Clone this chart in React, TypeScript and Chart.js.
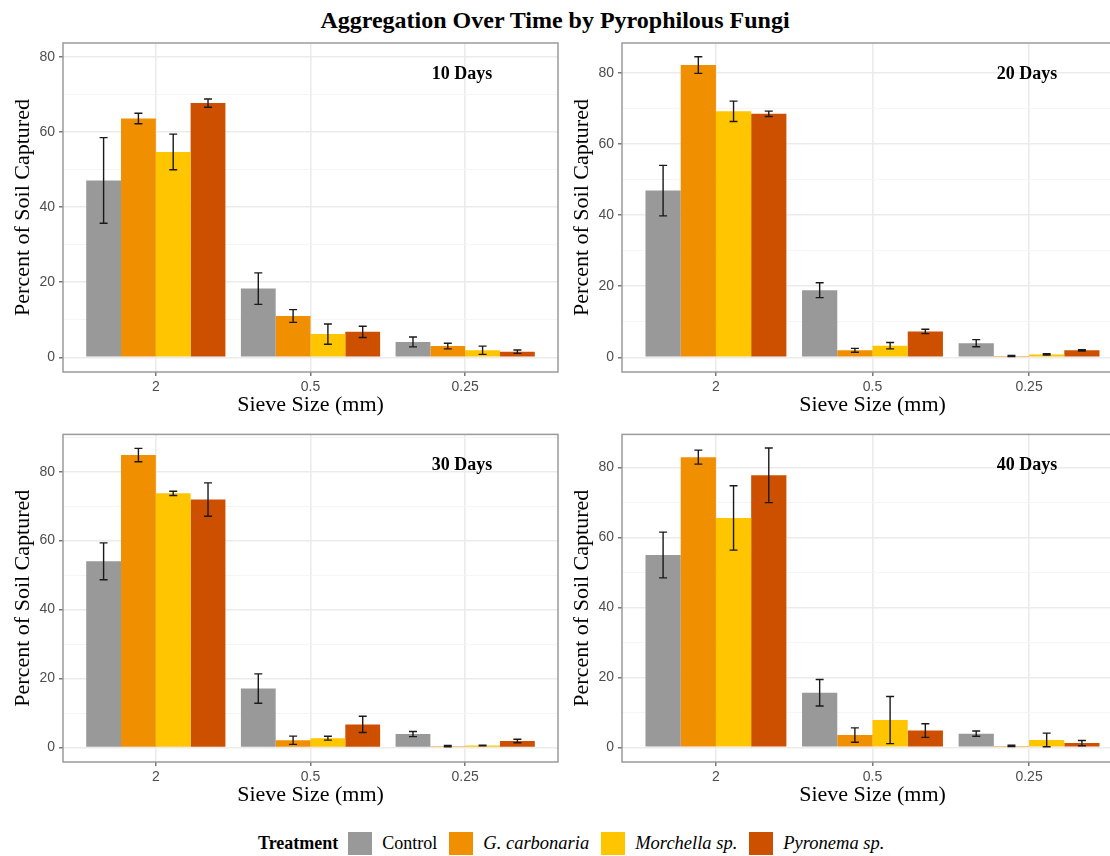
import React, { useEffect, useRef } from 'react';
import { Chart, registerables } from 'chart.js';

Chart.register(...registerables);

const chartTitle = 'Aggregation Over Time by Pyrophilous Fungi';
const xAxisTitle = 'Sieve Size (mm)';
const yAxisTitle = 'Percent of Soil Captured';
const legendTitle = 'Treatment';
const sieveSizes = ['2', '0.5', '0.25'];
const treatments = ['Control', 'G. carbonaria', 'Morchella sp.', 'Pyronema sp.'];
const treatmentColors = ['#999999', '#F09000', '#FFC600', '#CC5000'];
const italicTreatment = [false, true, true, true];
const yTickValues = [0, 10, 20, 30, 40, 50, 60, 70, 80, 90];
const panelLabels = ['10 Days', '20 Days', '30 Days', '40 Days'];

// 10 days: mean and error per sieve size
const d10Control = [47.1, 18.3, 4.1];
const d10ControlErr = [11.4, 4.2, 1.3];
const d10Gcarb = [63.6, 11.0, 3.0];
const d10GcarbErr = [1.4, 1.7, 0.75];
const d10Morch = [54.7, 6.2, 1.9];
const d10MorchErr = [4.75, 2.7, 1.1];
const d10Pyro = [67.7, 6.8, 1.5];
const d10PyroErr = [1.1, 1.5, 0.45];

// 20 days
const d20Control = [46.9, 18.9, 4.0];
const d20ControlErr = [7.1, 2.1, 1.0];
const d20Gcarb = [82.2, 2.0, 0.4];
const d20GcarbErr = [2.35, 0.55, 0.15];
const d20Morch = [69.2, 3.3, 0.85];
const d20MorchErr = [2.85, 0.9, 0.2];
const d20Pyro = [68.5, 7.3, 2.0];
const d20PyroErr = [0.75, 0.6, 0.2];

// 30 days
const d30Control = [54.0, 17.1, 3.9];
const d30ControlErr = [5.35, 4.25, 0.75];
const d30Gcarb = [84.8, 2.1, 0.4];
const d30GcarbErr = [1.95, 1.2, 0.2];
const d30Morch = [73.7, 2.7, 0.6];
const d30MorchErr = [0.6, 0.55, 0.1];
const d30Pyro = [71.9, 6.7, 1.9];
const d30PyroErr = [4.85, 2.35, 0.5];

// 40 days
const d40Control = [55.0, 15.6, 3.9];
const d40ControlErr = [6.55, 3.8, 0.75];
const d40Gcarb = [83.0, 3.5, 0.4];
const d40GcarbErr = [2.0, 2.05, 0.2];
const d40Morch = [65.6, 7.8, 2.1];
const d40MorchErr = [9.2, 6.75, 1.95];
const d40Pyro = [77.8, 4.8, 1.2];
const d40PyroErr = [7.8, 1.95, 0.75];

const yRanges = [
  [-3.9, 83.7],
  [-4.1, 88.4],
  [-4.2, 90.8],
  [-4.2, 89.5],
];

const serif = '"Liberation Serif", "Times New Roman", serif';
const sans = '"Liberation Sans", Arial, sans-serif';

const panels = [
  {
    label: panelLabels[0], means: [d10Control, d10Gcarb, d10Morch, d10Pyro],
    errs: [d10ControlErr, d10GcarbErr, d10MorchErr, d10PyroErr], range: yRanges[0],
    box: { left: 0, top: 30, width: 560, height: 395 }, yWidth: 63, padTop: 13, padRight: 2, yTitlePad: 10.5,
  },
  {
    label: panelLabels[1], means: [d20Control, d20Gcarb, d20Morch, d20Pyro],
    errs: [d20ControlErr, d20GcarbErr, d20MorchErr, d20PyroErr], range: yRanges[1],
    box: { left: 560, top: 30, width: 563, height: 395 }, yWidth: 62, padTop: 13, padRight: 0, yTitlePad: 9.5,
  },
  {
    label: panelLabels[2], means: [d30Control, d30Gcarb, d30Morch, d30Pyro],
    errs: [d30ControlErr, d30GcarbErr, d30MorchErr, d30PyroErr], range: yRanges[2],
    box: { left: 0, top: 422, width: 560, height: 393 }, yWidth: 63, padTop: 12, padRight: 2, yTitlePad: 10.5,
  },
  {
    label: panelLabels[3], means: [d40Control, d40Gcarb, d40Morch, d40Pyro],
    errs: [d40ControlErr, d40GcarbErr, d40MorchErr, d40PyroErr], range: yRanges[3],
    box: { left: 560, top: 422, width: 563, height: 393 }, yWidth: 62, padTop: 12, padRight: 0, yTitlePad: 9.5,
  },
];

const extrasPlugin = {
  id: 'panelExtras',
  afterDatasetsDraw(chart: any, _args: any, opts: any) {
    const { ctx, chartArea, scales } = chart;
    const y = scales.y;
    ctx.save();
    ctx.strokeStyle = '#1a1a1a';
    ctx.lineWidth = 1.4;
    chart.data.datasets.forEach((ds: any, i: number) => {
      const meta = chart.getDatasetMeta(i);
      meta.data.forEach((bar: any, j: number) => {
        const v = ds.data[j].y;
        const e = opts.errors[i][j];
        const top = y.getPixelForValue(v + e);
        const bot = y.getPixelForValue(v - e);
        const x = bar.x;
        ctx.beginPath();
        ctx.moveTo(x, top);
        ctx.lineTo(x, bot);
        ctx.moveTo(x - 4, top);
        ctx.lineTo(x + 4, top);
        ctx.moveTo(x - 4, bot);
        ctx.lineTo(x + 4, bot);
        ctx.stroke();
      });
    });
    ctx.strokeStyle = '#9a9a9a';
    ctx.lineWidth = 1.5;
    ctx.strokeRect(chartArea.left, chartArea.top, chartArea.right - chartArea.left, chartArea.bottom - chartArea.top);
    ctx.fillStyle = '#000';
    ctx.font = `bold 18px ${serif}`;
    ctx.textAlign = 'center';
    ctx.textBaseline = 'middle';
    ctx.fillText(opts.label, chartArea.right - 96, chartArea.top + 31);
    ctx.restore();
  },
};

function Panel({ cfg }: { cfg: any }) {
  const ref = useRef<HTMLCanvasElement>(null);
  useEffect(() => {
    if (!ref.current) return;
    const [yMin, yMax] = cfg.range;
    const isMajor = (v: number) => v % 20 === 0;
    const chart = new Chart(ref.current, {
      type: 'bar',
      data: {
        datasets: treatments.map((t, i) => ({
          label: t,
          data: cfg.means[i].map((v: number, k: number) => ({ x: k + 1, y: v })),
          backgroundColor: treatmentColors[i],
          borderWidth: 0,
          categoryPercentage: 0.9,
          barPercentage: 1.0,
        })),
      },
      options: {
        animation: false,
        responsive: false,
        layout: { padding: { top: cfg.padTop, right: cfg.padRight, left: 0, bottom: 0 } },
        plugins: {
          legend: { display: false },
          tooltip: { enabled: false },
          panelExtras: { label: cfg.label, errors: cfg.errs },
        } as any,
        scales: {
          x: {
            type: 'linear',
            min: 0.4,
            max: 3.6,
            offset: false,
            afterBuildTicks: (s: any) => {
              s.ticks = sieveSizes.map((_, i) => ({ value: i + 1 }));
            },
            afterFit: (s: any) => {
              s.height = 53;
            },
            ticks: {
              callback: (v: any) => sieveSizes[Math.round(v) - 1] ?? '',
              color: '#4d4d4d',
              font: { family: sans, size: 14 },
              padding: 3,
              maxRotation: 0,
              autoSkip: false,
            },
            grid: {
              offset: false,
              color: '#ebebeb',
              lineWidth: 1.6,
              tickLength: 4,
              tickColor: '#555',
              tickWidth: 1.2,
            },
            border: { display: false },
            title: {
              display: true,
              text: xAxisTitle,
              color: '#000',
              font: { family: serif, size: 22 },
              padding: { top: 0, bottom: 6.5 },
            },
          },
          y: {
            type: 'linear',
            min: yMin,
            max: yMax,
            afterBuildTicks: (s: any) => {
              s.ticks = yTickValues.filter((v) => v >= yMin && v <= yMax).map((v) => ({ value: v }));
            },
            afterFit: (s: any) => {
              s.width = cfg.yWidth;
            },
            ticks: {
              callback: (v: any) => (isMajor(v) ? String(v) : ''),
              color: '#4d4d4d',
              font: { family: sans, size: 14 },
              padding: 4,
              autoSkip: false,
            },
            grid: {
              color: (c: any) => (c.tick && isMajor(c.tick.value) ? '#ebebeb' : '#f4f4f4'),
              lineWidth: (c: any) => (c.tick && isMajor(c.tick.value) ? 1.6 : 0.9),
              tickLength: 4,
              tickColor: (c: any) => (c.tick && isMajor(c.tick.value) ? '#555' : 'rgba(0,0,0,0)'),
              tickWidth: 1.2,
            },
            border: { display: false },
            title: {
              display: true,
              text: yAxisTitle,
              color: '#000',
              font: { family: serif, size: 22 },
              padding: { top: cfg.yTitlePad, bottom: 0 },
            },
          },
        },
      } as any,
      plugins: [extrasPlugin],
    });
    return () => chart.destroy();
  }, [cfg]);
  return (
    <canvas
      ref={ref}
      width={cfg.box.width}
      height={cfg.box.height}
      style={{
        position: 'absolute',
        left: cfg.box.left,
        top: cfg.box.top,
        width: cfg.box.width,
        height: cfg.box.height,
      }}
    />
  );
}

export default function App() {
  return (
    <div
      style={{
        position: 'absolute',
        left: 0,
        top: 0,
        width: 1110,
        height: 856,
        overflow: 'hidden',
        background: '#fff',
      }}
    >
      <div
        style={{
          position: 'absolute',
          left: 0,
          top: 6,
          width: 1110,
          textAlign: 'center',
          fontFamily: serif,
          fontWeight: 'bold',
          fontSize: 24,
          lineHeight: '28px',
          color: '#000',
        }}
      >
        {chartTitle}
      </div>
      {panels.map((p, i) => (
        <Panel key={i} cfg={p} />
      ))}
      <div
        style={{
          position: 'absolute',
          left: 258,
          top: 832,
          height: 23,
          display: 'flex',
          alignItems: 'center',
          fontFamily: serif,
          fontSize: 18,
          color: '#000',
          whiteSpace: 'nowrap',
        }}
      >
        <span style={{ fontWeight: 'bold', marginRight: 10 }}>{legendTitle}</span>
        {treatments.map((t, i) => (
          <React.Fragment key={t}>
            <span
              style={{
                display: 'inline-block',
                width: 24,
                height: 23,
                background: treatmentColors[i],
                marginRight: 10,
              }}
            />
            <span
              style={{
                fontStyle: italicTreatment[i] ? 'italic' : 'normal',
                fontSize: italicTreatment[i] ? 18.5 : 18,
                marginRight: 12,
              }}
            >
              {t}
            </span>
          </React.Fragment>
        ))}
      </div>
    </div>
  );
}
